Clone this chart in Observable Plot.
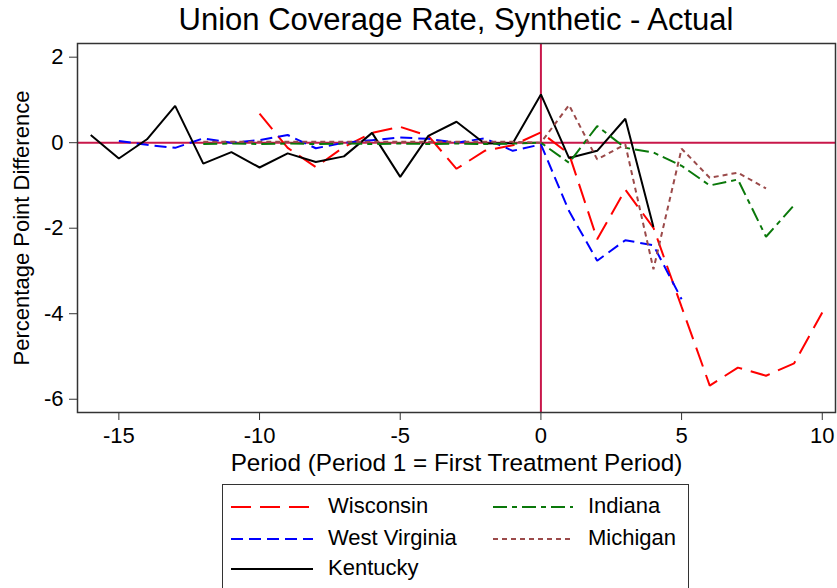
<!DOCTYPE html>
<html>
<head>
<meta charset="utf-8">
<script src="https://cdn.jsdelivr.net/npm/d3@7"></script>
<script src="https://cdn.jsdelivr.net/npm/@observablehq/plot@0.6"></script>
<style>
  body { margin: 0; background: #fff; font-family: "Liberation Sans", Arial, Helvetica, sans-serif; }
  #wrap { width: 837px; height: 588px; position: relative; overflow: hidden; }
  #title { position: absolute; left: 77px; top: 0; width: 758px; height: 40px; line-height: 40px; text-align: center; font-size: 31px; color: #000; white-space: nowrap; }
  #chart { position: absolute; left: 0; top: 40px; }
  #legend { position: absolute; left: 222px; top: 484px; width: 467px; height: 120px; border: 1.5px solid #333; box-sizing: border-box; }
  .item { position: absolute; font-size: 22px; line-height: 24px; color: #000; white-space: nowrap; }
  .item svg { position: absolute; left: 0; top: 11px; }
  .item span { position: absolute; }
</style>
</head>
<body>
<div id="wrap">
  <div id="title"></div>
  <div id="chart"></div>
  <div id="legend"></div>
</div>
<script>
const titleText = "Union Coverage Rate, Synthetic - Actual";
const xLabel = "Period (Period 1 = First Treatment Period)";
const yLabel = "Percentage Point Difference";
const xTicks = [-15, -10, -5, 0, 5, 10];
const yTicks = [-6, -4, -2, 0, 2];

const seriesNames = ["Wisconsin", "West Virginia", "Kentucky", "Indiana", "Michigan"];
const seriesColors = ["#ff0000", "#0000ff", "#000000", "#0a780a", "#9b4a4a"];
const seriesDash = ["20,9", "12,6", null, "14,5,5,5", "5,4"];

const wisconsinPeriod = [-10,-9,-8,-7,-6,-5,-4,-3,-2,-1,0,1,2,3,4,5,6,7,8,9,10];
const wisconsinValue = [0.68,-0.12,-0.57,-0.10,0.23,0.37,0.16,-0.61,-0.19,-0.06,0.24,-0.26,-2.26,-1.10,-1.99,-3.84,-5.68,-5.26,-5.45,-5.16,-3.97];

const westVirginiaPeriod = [-15,-14,-13,-12,-11,-10,-9,-8,-7,-6,-5,-4,-3,-2,-1,0,1,2,3,4,5];
const westVirginiaValue = [0.04,-0.05,-0.12,0.10,0.00,0.06,0.18,-0.13,0.00,0.06,0.12,0.09,0.00,0.10,-0.19,-0.04,-1.60,-2.76,-2.28,-2.40,-3.66];

const kentuckyPeriod = [-16,-15,-14,-13,-12,-11,-10,-9,-8,-7,-6,-5,-4,-3,-2,-1,0,1,2,3,4];
const kentuckyValue = [0.18,-0.37,0.08,0.86,-0.49,-0.22,-0.58,-0.25,-0.45,-0.32,0.23,-0.80,0.16,0.49,-0.02,-0.01,1.13,-0.36,-0.19,0.56,-1.97];

const indianaPeriod = [-12,-11,-10,-9,-8,-7,-6,-5,-4,-3,-2,-1,0,1,2,3,4,5,6,7,8,9];
const indianaValue = [-0.03,-0.02,-0.03,-0.02,-0.03,-0.02,-0.03,-0.02,-0.03,-0.02,-0.03,-0.02,0.00,-0.47,0.39,-0.12,-0.23,-0.54,-1.00,-0.86,-2.20,-1.46];

const michiganPeriod = [-12,-11,-10,-9,-8,-7,-6,-5,-4,-3,-2,-1,0,1,2,3,4,5,6,7,8];
const michiganValue = [0.02,0.02,0.02,0.02,0.02,0.02,0.02,0.02,0.02,0.02,0.02,0.02,0.00,0.88,-0.39,-0.04,-2.96,-0.14,-0.82,-0.70,-1.07];

const periods = [wisconsinPeriod, westVirginiaPeriod, kentuckyPeriod, indianaPeriod, michiganPeriod];
const values = [wisconsinValue, westVirginiaValue, kentuckyValue, indianaValue, michiganValue];

const refColor = "#c8174a";
const font = '"Liberation Sans", Arial, Helvetica, sans-serif';

document.getElementById("title").textContent = titleText;

const lineMarks = seriesNames.map((name, i) => {
  const rows = periods[i].map((t, j) => ({t, v: values[i][j]}));
  return Plot.line(rows, {
    x: "t", y: "v",
    stroke: seriesColors[i],
    strokeWidth: 2,
    strokeDasharray: seriesDash[i] || undefined,
    strokeLinejoin: "miter",
    strokeLinecap: "butt"
  });
});

const chart = Plot.plot({
  width: 837,
  height: 437,
  marginLeft: 77,
  marginRight: 2,
  marginTop: 3,
  marginBottom: 65,
  style: {fontFamily: font, background: "#fff", color: "#000", overflow: "visible"},
  x: {domain: [-16.47, 10.47]},
  y: {domain: [-6.31, 2.32]},
  marks: [
    Plot.ruleY([0], {stroke: refColor, strokeWidth: 2}),
    Plot.ruleX([0], {stroke: refColor, strokeWidth: 2}),
    ...lineMarks,
    Plot.frame({stroke: "#333", strokeWidth: 1.5}),
    Plot.axisX({ticks: xTicks, tickSize: 8, tickPadding: 7, fontSize: 22, label: null, tickFormat: d => String(d), stroke: "#333"}),
    Plot.axisY({ticks: yTicks, tickSize: 8, tickPadding: 6, fontSize: 22, label: null, tickFormat: d => String(d), stroke: "#333"}),
    Plot.text([xLabel], {text: d => d, frameAnchor: "bottom", dy: 51, fontSize: 24.3, lineAnchor: "middle", textAnchor: "middle", fill: "#000"}),
    Plot.text([yLabel], {text: d => d, frameAnchor: "left", dx: -56, rotate: -90, fontSize: 22, lineAnchor: "middle", textAnchor: "middle", fill: "#000"})
  ]
});
document.getElementById("chart").appendChild(chart);

// Legend
const legend = document.getElementById("legend");
const legendPos = [
  {x: 8, y: 9}, {x: 8, y: 41}, {x: 8, y: 71},
  {x: 270, y: 9}, {x: 270, y: 41}
];
const swatchW = [82, 82, 82, 80, 80];
seriesNames.forEach((name, i) => {
  const p = legendPos[i];
  const div = document.createElement("div");
  div.className = "item";
  div.style.left = p.x + "px";
  div.style.top = p.y + "px";
  const ns = "http://www.w3.org/2000/svg";
  const svg = document.createElementNS(ns, "svg");
  svg.setAttribute("width", swatchW[i]);
  svg.setAttribute("height", 4);
  const ln = document.createElementNS(ns, "line");
  ln.setAttribute("x1", 0); ln.setAttribute("x2", swatchW[i]);
  ln.setAttribute("y1", 2); ln.setAttribute("y2", 2);
  ln.setAttribute("stroke", seriesColors[i]);
  ln.setAttribute("stroke-width", 2);
  if (seriesDash[i]) ln.setAttribute("stroke-dasharray", seriesDash[i]);
  svg.appendChild(ln);
  div.appendChild(svg);
  const sp = document.createElement("span");
  sp.textContent = name;
  sp.style.left = (swatchW[i] + 15) + "px";
  sp.style.top = "0px";
  div.appendChild(sp);
  legend.appendChild(div);
});
</script>
</body>
</html>
